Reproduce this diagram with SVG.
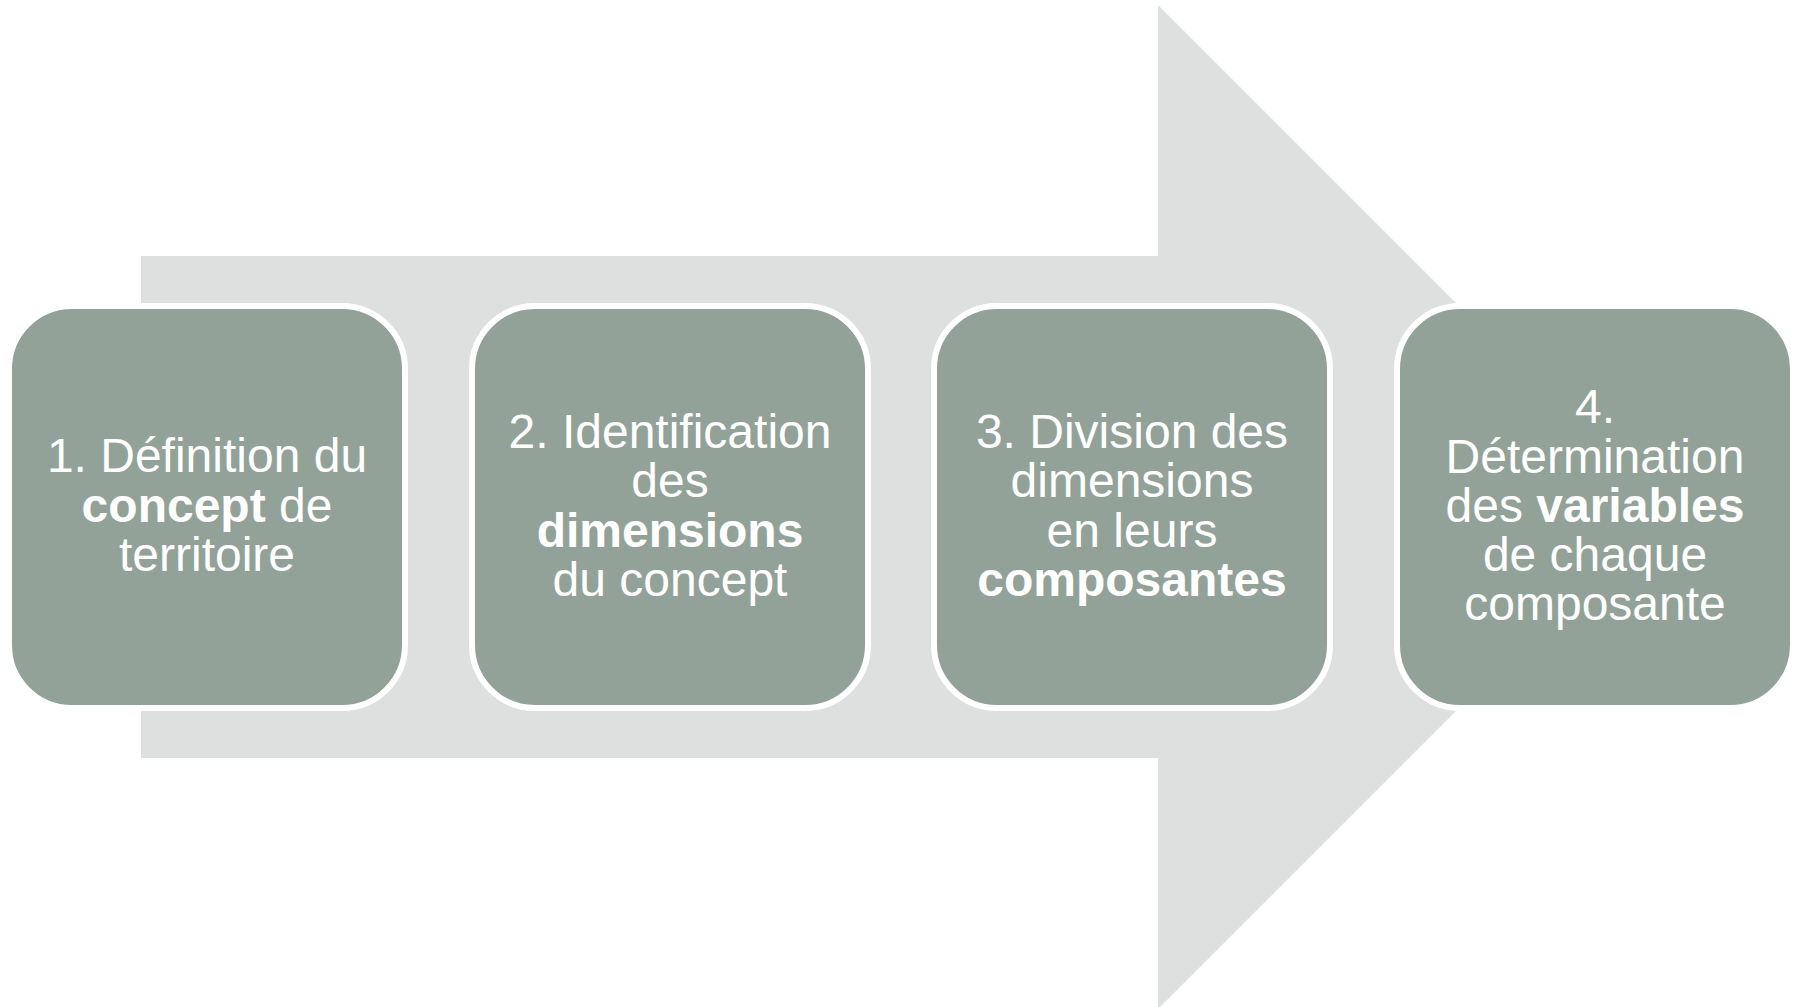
<svg xmlns="http://www.w3.org/2000/svg" width="1799" height="1007" viewBox="0 0 1799 1007">
<style>
.box{fill:#93A299;stroke:#FFFFFF;stroke-width:6}
.t{font-family:"Liberation Sans",Arial,sans-serif;font-size:48px;fill:#FFFFFF;text-anchor:middle}
.b{font-weight:bold}
</style>
<rect width="1799" height="1007" fill="#FFFFFF"/>
<g id="connectors">
<polygon id="arrow" points="141,256 1158,256 1158,5 1660,507 1158,1009 1158,758 141,758" fill="#DDE0DF"/>
</g>
<g id="node1">
<rect class="box" x="9" y="306" width="396" height="402" rx="63" ry="63"/>
<text class="t" x="207" y="472">1. Définition du</text>
<text class="t" x="207" y="522"><tspan class="b">concept</tspan> de</text>
<text class="t" x="207" y="571">territoire</text>
</g>
<g id="node2">
<rect class="box" x="472" y="306" width="396" height="402" rx="63" ry="63"/>
<text class="t" x="670" y="448">2. Identification</text>
<text class="t" x="670" y="497">des</text>
<text class="t" x="670" y="547" font-weight="bold">dimensions</text>
<text class="t" x="670" y="596">du concept</text>
</g>
<g id="node3">
<rect class="box" x="934" y="306" width="396" height="402" rx="63" ry="63"/>
<text class="t" x="1132" y="448">3. Division des</text>
<text class="t" x="1132" y="497">dimensions</text>
<text class="t" x="1132" y="547">en leurs</text>
<text class="t" x="1132" y="596" font-weight="bold">composantes</text>
</g>
<g id="node4">
<rect class="box" x="1397" y="306" width="396" height="402" rx="63" ry="63"/>
<text class="t" x="1595" y="423">4.</text>
<text class="t" x="1595" y="473">Détermination</text>
<text class="t" x="1595" y="522">des <tspan class="b">variables</tspan></text>
<text class="t" x="1595" y="571">de chaque</text>
<text class="t" x="1595" y="620">composante</text>
</g>
</svg>
